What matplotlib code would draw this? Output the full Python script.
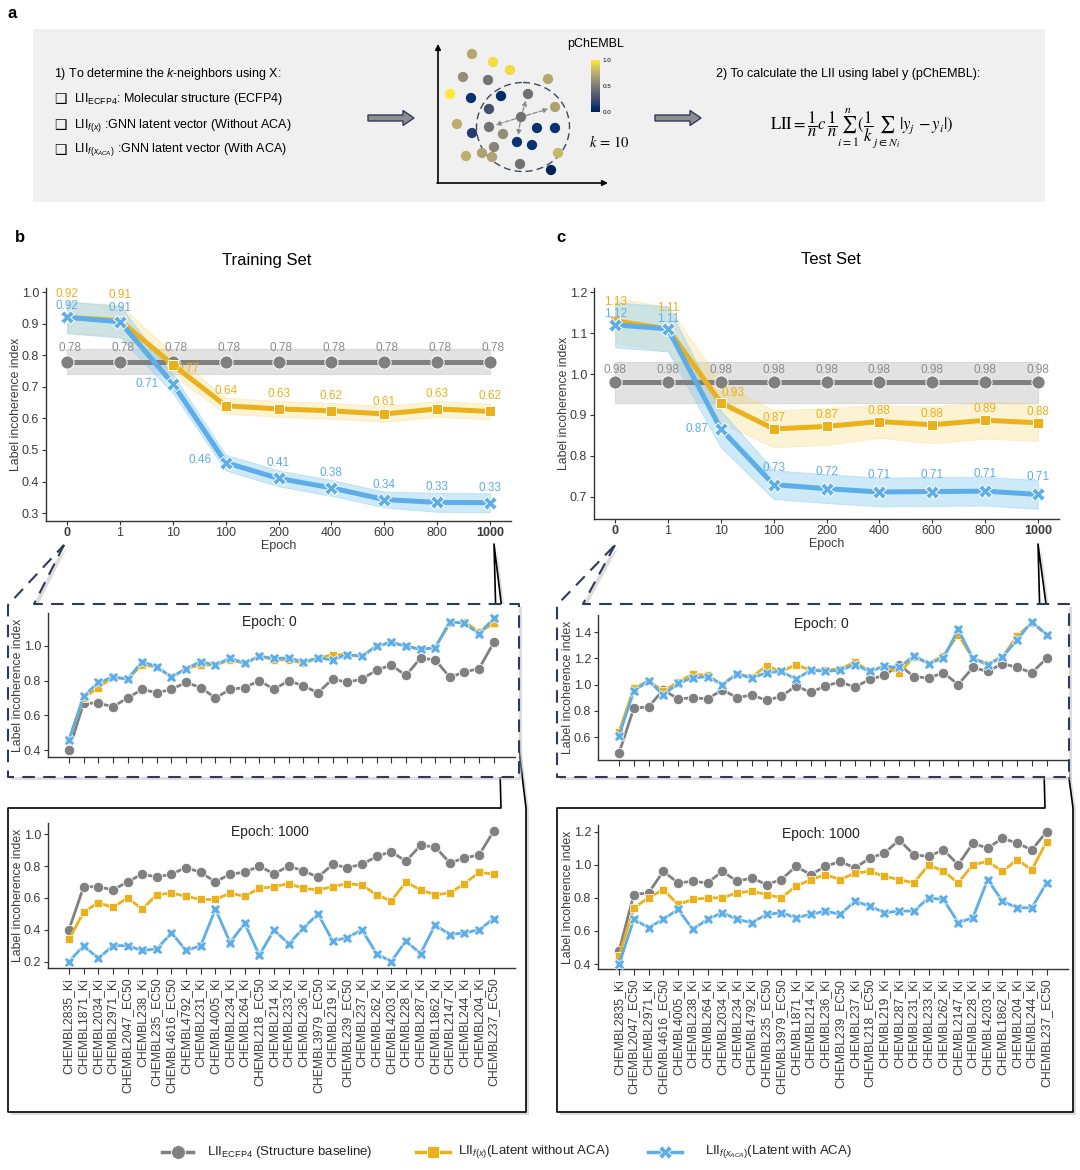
#!/usr/bin/env python3
"""Label incoherence index (LII) across training epochs, training vs test set."""
import matplotlib

matplotlib.use("Agg")

import matplotlib.pyplot as plt
from matplotlib import patches as mpatches
import numpy as np

W, H = 1080, 1170

plt.rcParams["font.family"] = ["Liberation Sans", "DejaVu Sans"]
plt.rcParams["mathtext.fontset"] = "custom"
plt.rcParams["mathtext.rm"] = "Liberation Sans"
plt.rcParams["mathtext.it"] = "Liberation Sans:italic"
plt.rcParams["mathtext.bf"] = "Liberation Sans:bold"

GRAY, GOLD, BLUE = "#808080", "#ebb11c", "#5dade8"
NAVY = "#2e3a5c"
INK = "#333333"

# ---- epoch curves (mean +- spread) ----
EPOCHS = ["0", "1", "10", "100", "200", "400", "600", "800", "1000"]

TRAIN_ECFP = [0.78, 0.78, 0.78, 0.78, 0.78, 0.78, 0.78, 0.78, 0.78]
TRAIN_ECFP_SD = [0.04, 0.04, 0.04, 0.04, 0.04, 0.04, 0.04, 0.04, 0.04]
TRAIN_FX = [0.92, 0.91, 0.77, 0.64, 0.63, 0.624, 0.614, 0.63, 0.622]
TRAIN_FX_SD = [0.05, 0.05, 0.035, 0.025, 0.025, 0.025, 0.025, 0.025, 0.025]
TRAIN_ACA = [0.92, 0.906, 0.71, 0.46, 0.41, 0.38, 0.343, 0.334, 0.333]
TRAIN_ACA_SD = [0.05, 0.05, 0.03, 0.025, 0.025, 0.025, 0.025, 0.03, 0.03]

TEST_ECFP = [0.98, 0.98, 0.98, 0.98, 0.98, 0.98, 0.98, 0.98, 0.98]
TEST_ECFP_SD = [0.05, 0.05, 0.05, 0.05, 0.05, 0.05, 0.05, 0.05, 0.05]
TEST_FX = [1.13, 1.11, 0.93, 0.866, 0.872, 0.884, 0.876, 0.887, 0.881]
TEST_FX_SD = [0.055, 0.055, 0.05, 0.045, 0.045, 0.04, 0.045, 0.045, 0.045]
TEST_ACA = [1.12, 1.11, 0.866, 0.73, 0.72, 0.712, 0.713, 0.714, 0.706]
TEST_ACA_SD = [0.055, 0.055, 0.045, 0.035, 0.035, 0.035, 0.035, 0.035, 0.035]

# ---- per-target LII ----
TRAIN_TARGETS = [
    "CHEMBL2835_Ki", "CHEMBL1871_Ki", "CHEMBL2034_Ki", "CHEMBL2971_Ki",
    "CHEMBL2047_EC50", "CHEMBL238_Ki", "CHEMBL235_EC50", "CHEMBL4616_EC50",
    "CHEMBL4792_Ki", "CHEMBL231_Ki", "CHEMBL4005_Ki", "CHEMBL234_Ki",
    "CHEMBL264_Ki", "CHEMBL218_EC50", "CHEMBL214_Ki", "CHEMBL233_Ki",
    "CHEMBL236_Ki", "CHEMBL3979_EC50", "CHEMBL219_Ki", "CHEMBL239_EC50",
    "CHEMBL237_Ki", "CHEMBL262_Ki", "CHEMBL4203_Ki", "CHEMBL228_Ki",
    "CHEMBL287_Ki", "CHEMBL1862_Ki", "CHEMBL2147_Ki", "CHEMBL244_Ki",
    "CHEMBL204_Ki", "CHEMBL237_EC50",
]
TRAIN_T_ECFP = [0.40, 0.67, 0.67, 0.65, 0.70, 0.75, 0.73, 0.75, 0.79, 0.76,
                0.70, 0.75, 0.76, 0.80, 0.75, 0.80, 0.77, 0.73, 0.81, 0.79,
                0.81, 0.86, 0.89, 0.83, 0.93, 0.92, 0.82, 0.85, 0.87, 1.02]
TRAIN_E0_FX = [0.46, 0.70, 0.76, 0.82, 0.81, 0.89, 0.88, 0.82, 0.87, 0.89,
               0.89, 0.92, 0.90, 0.94, 0.92, 0.92, 0.90, 0.93, 0.95, 0.95,
               0.94, 1.00, 1.02, 1.00, 0.98, 0.99, 1.13, 1.14, 1.08, 1.13]
TRAIN_E0_ACA = [0.46, 0.71, 0.79, 0.82, 0.81, 0.91, 0.88, 0.82, 0.87, 0.91,
                0.89, 0.93, 0.90, 0.94, 0.93, 0.93, 0.91, 0.93, 0.92, 0.95,
                0.94, 1.00, 1.02, 1.00, 0.98, 0.99, 1.14, 1.13, 1.07, 1.16]
TRAIN_E1000_FX = [0.34, 0.51, 0.57, 0.54, 0.60, 0.53, 0.62, 0.63, 0.61, 0.59,
                  0.59, 0.63, 0.61, 0.66, 0.67, 0.69, 0.66, 0.65, 0.67, 0.69,
                  0.68, 0.62, 0.58, 0.70, 0.65, 0.62, 0.63, 0.69, 0.76, 0.75]
TRAIN_E1000_ACA = [0.20, 0.30, 0.22, 0.30, 0.30, 0.27, 0.28, 0.38, 0.27, 0.30,
                   0.53, 0.32, 0.44, 0.24, 0.40, 0.31, 0.41, 0.50, 0.33, 0.35,
                   0.40, 0.25, 0.20, 0.33, 0.25, 0.43, 0.37, 0.38, 0.40, 0.47]

TEST_TARGETS = [
    "CHEMBL2835_Ki", "CHEMBL2047_EC50", "CHEMBL2971_Ki", "CHEMBL4616_EC50",
    "CHEMBL4005_Ki", "CHEMBL238_Ki", "CHEMBL264_Ki", "CHEMBL2034_Ki",
    "CHEMBL234_Ki", "CHEMBL4792_Ki", "CHEMBL235_EC50", "CHEMBL3979_EC50",
    "CHEMBL1871_Ki", "CHEMBL214_Ki", "CHEMBL236_Ki", "CHEMBL239_EC50",
    "CHEMBL237_Ki", "CHEMBL218_EC50", "CHEMBL219_Ki", "CHEMBL287_Ki",
    "CHEMBL231_Ki", "CHEMBL233_Ki", "CHEMBL262_Ki", "CHEMBL2147_Ki",
    "CHEMBL228_Ki", "CHEMBL4203_Ki", "CHEMBL1862_Ki", "CHEMBL204_Ki",
    "CHEMBL244_Ki", "CHEMBL237_EC50",
]
TEST_T_ECFP = [0.48, 0.82, 0.83, 0.96, 0.89, 0.90, 0.89, 0.96, 0.90, 0.92,
               0.88, 0.91, 0.99, 0.94, 0.99, 1.02, 0.98, 1.04, 1.07, 1.15,
               1.06, 1.05, 1.09, 1.00, 1.13, 1.10, 1.16, 1.13, 1.09, 1.20]
TEST_E0_FX = [0.64, 0.97, 1.03, 0.95, 1.02, 1.08, 1.07, 1.00, 1.08, 1.06,
              1.14, 1.10, 1.15, 1.11, 1.11, 1.12, 1.17, 1.10, 1.14, 1.09,
              1.21, 1.16, 1.22, 1.38, 1.20, 1.16, 1.21, 1.37, 1.47, 1.38]
TEST_E0_ACA = [0.61, 0.95, 1.03, 0.92, 1.01, 1.05, 1.06, 1.00, 1.08, 1.05,
               1.09, 1.10, 1.04, 1.11, 1.10, 1.11, 1.15, 1.10, 1.14, 1.13,
               1.22, 1.16, 1.20, 1.42, 1.20, 1.15, 1.21, 1.34, 1.48, 1.38]
TEST_E1000_FX = [0.45, 0.74, 0.80, 0.85, 0.76, 0.79, 0.80, 0.80, 0.83, 0.84,
                 0.82, 0.80, 0.87, 0.91, 0.94, 0.91, 0.95, 0.96, 0.93, 0.91,
                 0.89, 1.00, 0.96, 0.89, 1.00, 1.02, 0.96, 1.03, 0.97, 1.14]
TEST_E1000_ACA = [0.40, 0.67, 0.62, 0.67, 0.73, 0.61, 0.67, 0.71, 0.67, 0.65,
                  0.70, 0.71, 0.68, 0.70, 0.72, 0.70, 0.78, 0.75, 0.71, 0.72,
                  0.72, 0.80, 0.79, 0.65, 0.68, 0.91, 0.78, 0.74, 0.74, 0.89]

# ---- schematic in panel a: toy embedding coloured by pChEMBL ----
ILLUS_X = [472, 493, 510, 463, 488, 548, 450, 471, 501, 528, 489, 555, 457, 489,
           521, 537, 555, 472, 503, 517, 532, 494, 482, 466, 492, 558, 520, 551]
ILLUS_Y = [54, 62, 70, 77, 80, 79, 94, 98, 96, 94, 109, 107, 124, 127,
           117, 128, 128, 133, 134, 142, 145, 147, 153, 156, 157, 153, 164, 170]
ILLUS_P = [0.72, 0.95, 0.95, 0.6, 0.45, 0.72, 1.0, 0.1, 0.05, 0.45, 0.25, 0.7, 0.75, 0.45,
           0.45, 0.1, 0.1, 0.15, 0.6, 0.1, 0.1, 0.55, 0.7, 0.75, 0.7, 0.8, 0.45, 0.0]
ILLUS_QUERY = 14
ILLUS_NEIGHBORS = [9, 11, 13, 19]

YLABEL = "Label incoherence index"


def px_axes(fig, left, top, right, bottom, **kw):
    """Axes placed by pixel box (top-left origin)."""
    return fig.add_axes([left / W, 1 - bottom / H, (right - left) / W, (bottom - top) / H], **kw)


def style_axes(ax, labelsize=9):
    for s in ("top", "right"):
        ax.spines[s].set_visible(False)
    for s in ("left", "bottom"):
        ax.spines[s].set_color(INK)
        ax.spines[s].set_linewidth(1.0)
    ax.tick_params(colors=INK, labelcolor="#3a3a3a", length=3, width=0.8,
                   labelsize=labelsize, pad=2)
    ax.set_facecolor("none")


def epoch_panel(ax, series, ylim, yticks, width_px, height_px):
    x = np.arange(len(EPOCHS))
    for mean, sd, color, band, balpha, marker, ms, offs in series:
        mean = np.asarray(mean)
        sd = np.asarray(sd)
        ax.fill_between(x, mean - sd, mean + sd, color=band, alpha=balpha, lw=0.8,
                        edgecolor=band, zorder=1)
        ax.plot(x, mean, color=color, lw=3.6, marker=marker, ms=ms, mec="white",
                mew=0.7, zorder=3 + len(ax.lines), solid_capstyle="round")
        default, special = offs
        for i, v in enumerate(mean):
            dx, dy = special.get(i, default)
            ax.annotate(f"{v:.2f}", (x[i], v), xytext=(dx * 0.72, dy * 0.72),
                        textcoords="offset points", ha="center", va="center",
                        color=color if color != GRAY else "#8c8c8c",
                        fontsize=8.5, zorder=10)
    ax.set_xlim(-0.4, len(EPOCHS) - 0.6)
    ax.set_ylim(*ylim)
    ax.set_yticks(yticks)
    ax.set_yticklabels([f"{t:.1f}" for t in yticks])
    ax.set_xticks(x)
    ax.set_xticklabels(EPOCHS)
    for i in (0, len(EPOCHS) - 1):
        ax.get_xticklabels()[i].set_fontweight("bold")
    style_axes(ax)
    ax.tick_params(axis="x", pad=1)
    ax.set_xlabel("Epoch", fontsize=9, va="center", color="#3a3a3a")
    ax.xaxis.set_label_coords(0.5, -25 / height_px)
    ax.set_ylabel(YLABEL, fontsize=8.8, va="center", color="#3a3a3a")
    ax.yaxis.set_label_coords(-30 / width_px, 0.5)


def target_panel(ax, ecfp, fx, aca, ylim, yticks, title, width_px, names=None):
    x = np.arange(len(ecfp))
    ax.plot(x, ecfp, color=GRAY, lw=2.0, marker="o", ms=7.5, mec="white", mew=0.6, zorder=3)
    ax.plot(x, fx, color=GOLD, lw=2.0, marker="s", ms=5.5, mec="white", mew=0.5, zorder=4)
    ax.plot(x, aca, color=BLUE, lw=2.0, marker="X", ms=7.5, mec="white", mew=0.5, zorder=5)
    ax.set_xlim(-1.43, len(x) - 1 + 1.45)
    ax.set_ylim(*ylim)
    ax.set_yticks(yticks)
    ax.set_yticklabels([f"{t:.1f}" for t in yticks])
    ax.set_xticks(x)
    style_axes(ax)
    ax.tick_params(axis="x", length=4)
    if names is None:
        ax.set_xticklabels([])
    else:
        ax.set_xticklabels(names, rotation=90, fontsize=8.8, ha="center", va="top")
        ax.tick_params(axis="x", pad=3)
    ax.text(0.475, 0.94, title, transform=ax.transAxes, ha="center", va="center",
            fontsize=10, color="#222222")
    ax.set_ylabel(YLABEL, fontsize=8.8, va="center", color="#3a3a3a")
    ax.yaxis.set_label_coords(-30 / width_px, 0.5)


def main():
    fig = plt.figure(figsize=(W / 100, H / 100), dpi=100)
    ov = fig.add_axes([0, 0, 1, 1])
    ov.set_xlim(0, W)
    ov.set_ylim(H, 0)
    ov.axis("off")

    # ---------------- panel a ----------------
    ov.text(8, 14, "a", fontsize=12, fontweight="bold", va="center")
    ov.add_patch(mpatches.Rectangle((33, 29), 1012, 173, fc="#f0f0f0", ec="none"))
    ov.text(54, 74, r"1) To determine the $k$-neighbors using X:", fontsize=9, va="center")
    items = [
        r"LII$_{\mathrm{ECFP4}}$: Molecular structure (ECFP4)",
        r"LII$_{f(x)}$ :GNN latent vector (Without ACA)",
        r"LII$_{f(x_{ACA})}$ :GNN latent vector (With ACA)",
    ]
    for y, s in zip([99, 125, 150], items):
        ov.text(60, y, "\u2751", fontsize=10, ha="center", va="center", family="DejaVu Sans")
        ov.text(74, y, s, fontsize=9, va="center")
    for x0 in (368, 655):
        ov.add_patch(mpatches.FancyArrow(x0, 118, 46, 0, width=6, head_width=15,
                                         head_length=11, length_includes_head=True,
                                         fc="#8e8e8e", ec=NAVY, lw=1.0))
    # schematic embedding
    ov.annotate("", xy=(438, 44), xytext=(438, 183),
                arrowprops=dict(arrowstyle="-|>", color="black", lw=1.2, mutation_scale=8,
                                shrinkA=0, shrinkB=0))
    ov.annotate("", xy=(608, 183), xytext=(437, 183),
                arrowprops=dict(arrowstyle="-|>", color="black", lw=1.2, mutation_scale=8,
                                shrinkA=0, shrinkB=0))
    ov.add_patch(mpatches.Ellipse((523, 127), 93, 89, fill=False, ls=(0, (5, 3)),
                                  ec="#3d4660", lw=1.0))
    ov.scatter(ILLUS_X, ILLUS_Y, c=ILLUS_P, cmap="cividis", vmin=0, vmax=1, s=55,
               linewidths=0, zorder=3)
    q = (ILLUS_X[ILLUS_QUERY], ILLUS_Y[ILLUS_QUERY])
    for j in ILLUS_NEIGHBORS:
        ov.annotate("", xy=(ILLUS_X[j], ILLUS_Y[j]), xytext=q,
                    arrowprops=dict(arrowstyle="-|>", ls="--", color="#8a8a8a", lw=0.9,
                                    mutation_scale=7, shrinkA=4, shrinkB=5), zorder=4)
    ov.text(596, 44, "pChEMBL", fontsize=9, ha="center", va="center")
    ov.text(589, 142, r"$k\,=\,10$", fontsize=10.5, ha="left", va="center",
            math_fontfamily="stix")
    cax = px_axes(fig, 591, 60, 600, 112)
    cax.imshow(np.linspace(1, 0, 100)[:, None], cmap="cividis", aspect="auto",
               extent=[0, 1, 0, 1])
    cax.set_xticks([])
    cax.yaxis.tick_right()
    cax.set_yticks([0, 0.5, 1])
    cax.set_yticklabels(["0.0", "0.5", "1.0"])
    cax.tick_params(length=0, labelsize=4.5, pad=2)
    for s in cax.spines.values():
        s.set_visible(False)

    ov.text(716, 74, "2) To calculate the LII using label y (pChEMBL):", fontsize=9, va="center")
    ov.text(770, 128,
            r"$\mathrm{LII} = \dfrac{1}{n}c\,\dfrac{1}{n}\sum_{i=1}^{n}(\dfrac{1}{k}\sum_{j\in N_i}|y_j\,-y_i|)$",
            fontsize=12, va="center", math_fontfamily="stix")

    # ---------------- zoom boxes / callouts ----------------
    def callout(pts, ls, color, lw, fill="white"):
        shadow = mpatches.Polygon([(px + 3, py + 3) for px, py in pts], closed=True,
                                  fc="#b5b5b5", ec="none", alpha=0.45)
        ov.add_patch(shadow)
        ov.add_patch(mpatches.Polygon(pts, closed=True, fc=fill, ec=color, lw=lw, ls=ls,
                                      joinstyle="round"))

    for dx, tick0, tick1, right0, right1 in ((0, 64, 494, 519, 526),
                                              (549, 615, 1038, 1069, 1073)):
        callout([(tick1, 544), (right1, 808), (right1, 1112), (8 + dx, 1112),
                 (8 + dx, 808), (tick1 + 7, 808)], "-", "black", 1.2)
        callout([(tick0, 545), (34 + dx, 604), (right0, 604), (right0, 777),
                 (8 + dx, 777), (8 + dx, 605)], (0, (6, 4)), NAVY, 1.5)

    # ---------------- panel b / c: epoch curves ----------------
    ov.text(15, 238, "b", fontsize=12, fontweight="bold", va="center")
    ov.text(556, 238, "c", fontsize=12, fontweight="bold", va="center")
    ov.text(267, 260, "Training Set", fontsize=12, ha="center", va="center")
    ov.text(831, 260, "Test Set", fontsize=12, ha="center", va="center")

    ax_tr = px_axes(fig, 46, 288, 511, 521)
    epoch_panel(ax_tr, [
        (TRAIN_ECFP, TRAIN_ECFP_SD, GRAY, "#b8b8b8", 0.4, "o", 9.5, ((3, 14), {})),
        (TRAIN_FX, TRAIN_FX_SD, GOLD, "#f5d35a", 0.25, "s", 7,
         ((0, 15), {0: (0, 23), 1: (0, 26), 2: (15, -4), 6: (0, 12)})),
        (TRAIN_ACA, TRAIN_ACA_SD, BLUE, "#8ccdf3", 0.42, "X", 9.5,
         ((0, 15), {0: (0, 11), 1: (0, 14), 2: (-26, 0), 3: (-26, 3)})),
    ], (0.275, 1.013), [0.3, 0.4, 0.5, 0.6, 0.7, 0.8, 0.9, 1.0], 465, 233)

    ax_te = px_axes(fig, 594, 288, 1059, 519)
    epoch_panel(ax_te, [
        (TEST_ECFP, TEST_ECFP_SD, GRAY, "#b8b8b8", 0.4, "o", 9.5, ((0, 12), {})),
        (TEST_FX, TEST_FX_SD, GOLD, "#f5d35a", 0.25, "s", 7,
         ((0, 11), {0: (0, 19), 1: (0, 21), 2: (12, 10)})),
        (TEST_ACA, TEST_ACA_SD, BLUE, "#8ccdf3", 0.42, "X", 9.5,
         ((0, 17), {0: (0, 11), 1: (0, 10), 2: (-24, 0)})),
    ], (0.646, 1.21), [0.7, 0.8, 0.9, 1.0, 1.1, 1.2], 465, 231)

    # ---------------- per-target panels ----------------
    ax = px_axes(fig, 48, 613, 515, 757)
    target_panel(ax, TRAIN_T_ECFP, TRAIN_E0_FX, TRAIN_E0_ACA, (0.36, 1.19),
                 [0.4, 0.6, 0.8, 1.0], "Epoch: 0", 467)
    ax = px_axes(fig, 598, 615, 1068, 760)
    target_panel(ax, TEST_T_ECFP, TEST_E0_FX, TEST_E0_ACA, (0.425, 1.53),
                 [0.6, 0.8, 1.0, 1.2, 1.4], "Epoch: 0", 470)
    ax = px_axes(fig, 48, 823, 515, 968)
    target_panel(ax, TRAIN_T_ECFP, TRAIN_E1000_FX, TRAIN_E1000_ACA, (0.16, 1.07),
                 [0.2, 0.4, 0.6, 0.8, 1.0], "Epoch: 1000", 467, names=TRAIN_TARGETS)
    ax = px_axes(fig, 598, 825, 1068, 969)
    target_panel(ax, TEST_T_ECFP, TEST_E1000_FX, TEST_E1000_ACA, (0.37, 1.24),
                 [0.4, 0.6, 0.8, 1.0, 1.2], "Epoch: 1000", 470, names=TEST_TARGETS)

    # ---------------- legend ----------------
    legend = [
        (162, 193, GRAY, "o", 10, r"LII$_{\mathrm{ECFP4}}$ (Structure baseline)", 207),
        (416, 450, GOLD, "s", 8, r"LII$_{f(x)}$(Latent without ACA)", 458),
        (648, 682, BLUE, "X", 10, r"LII$_{f(x_{ACA})}$(Latent with ACA)", 705),
    ]
    for x0, x1, color, marker, ms, label, tx in legend:
        ov.plot([x0, x1], [1152, 1152], color=color, lw=2.5)
        ov.plot([(x0 + x1) / 2], [1152], color=color, marker=marker, ms=ms, mec="white", mew=0.6)
        ov.text(tx, 1152, label, fontsize=9.5, va="center", color="#222222")

    fig.savefig("out.png", dpi=100, facecolor="white")
    plt.close(fig)


if __name__ == "__main__":
    main()
